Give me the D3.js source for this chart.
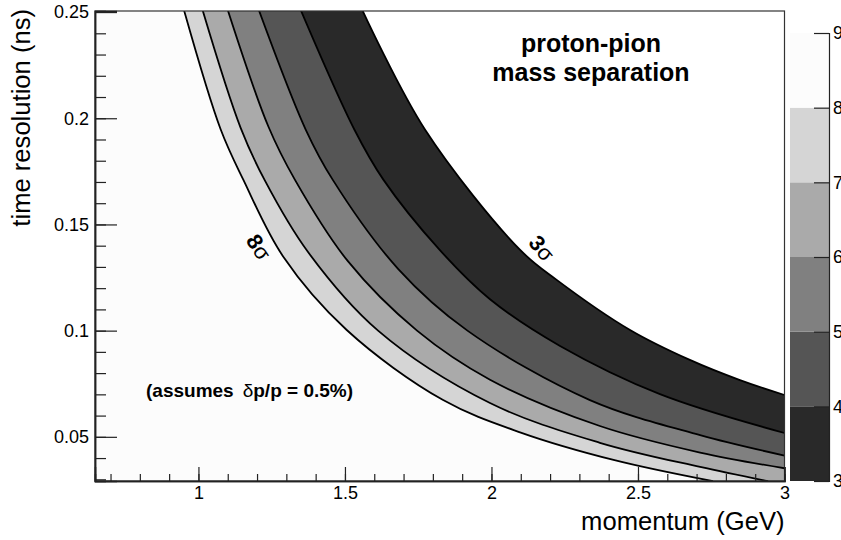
<!DOCTYPE html>
<html lang="en">
<head>
    <meta charset="UTF-8">
    <title>proton-pion mass separation</title>
    <script src="https://d3js.org/d3.v7.min.js"></script>
    <style>
        body { margin: 0; background: #fff; }
        svg { display: block; font-family: "Liberation Sans", Arial, Helvetica, sans-serif; }
        .tick text { font-size: 18px; fill: #000; }
    </style>
</head>
<body>
<svg width="841" height="540"></svg>

<script>
    // contour levels (separation in sigma) and band colours
    const levels = [3, 4, 5, 6, 7, 8];
    const bandColors = ["#292929", "#555555", "#808080", "#aaaaaa", "#d5d5d5", "#fcfcfc"];
    const paletteSteps = [3, 4, 5, 6, 7, 8, 9];

    // contour lines: [momentum (GeV), time resolution (ns)]
    const line3 = [[1.559, 0.251], [1.773, 0.1947], [2.097, 0.1381], [2.2225, 0.1239], [2.473, 0.1003],
                   [2.677, 0.0862], [2.848, 0.0767], [3.0, 0.0697]];
    const line4 = [[1.349, 0.251], [1.532, 0.1947], [1.631, 0.1711], [1.824, 0.1379], [1.995, 0.1148],
                   [2.234, 0.0928], [2.575, 0.0701], [3.0, 0.0518]];
    const line5 = [[1.206, 0.251], [1.366, 0.1947], [1.458, 0.1711], [1.682, 0.1290], [1.918, 0.1000],
                   [2.336, 0.0673], [2.712, 0.0508], [3.0, 0.0412]];
    const line6 = [[1.100, 0.251], [1.239, 0.1960], [1.329, 0.1711], [1.510, 0.1327], [1.746, 0.1000],
                   [1.995, 0.0769], [2.370, 0.0551], [2.712, 0.0426], [3.0, 0.0352]];
    const line7 = [[1.014, 0.251], [1.144, 0.1955], [1.227, 0.1706], [1.374, 0.1370], [1.613, 0.1000],
                   [1.995, 0.0659], [2.370, 0.0472], [2.712, 0.0358], [2.944, 0.0291]];
    const line8 = [[0.9505, 0.251], [1.076, 0.1947], [1.153, 0.1711], [1.289, 0.1349], [1.506, 0.1003],
                   [1.835, 0.0673], [2.100, 0.0520], [2.420, 0.0390], [2.756, 0.0291]];
    const contourLines = [line3, line4, line5, line6, line7, line8];

    // axis ticks
    const xMajor = [1, 1.5, 2, 2.5, 3];
    const xMajorLabels = ["1", "1.5", "2", "2.5", "3"];
    const yMajor = [0.05, 0.1, 0.15, 0.2, 0.25];
    const yMajorLabels = ["0.05", "0.1", "0.15", "0.2", "0.25"];
    const xMinor = d3.range(7, 30).map(d => d / 10);
    const yMinor = d3.range(3, 25).map(d => d / 100);

    const svg = d3.select("svg");
    const frame = {left: 95, right: 784.5, top: 11, bottom: 481};

    const x = d3.scaleLinear().domain([0.647, 3.0]).range([frame.left, frame.right]);
    const y = d3.scaleLinear().domain([0.0292, 0.2505]).range([frame.bottom, frame.top]);
    const fw = frame.right - frame.left, fh = frame.bottom - frame.top;

    svg.append("defs").append("clipPath").attr("id", "plotclip")
        .append("rect").attr("x", frame.left).attr("y", frame.top)
        .attr("width", fw).attr("height", fh);

    svg.append("rect").attr("x", frame.left).attr("y", frame.top)
        .attr("width", fw).attr("height", fh).attr("fill", "#fff");

    const line = d3.line().x(d => x(d[0])).y(d => y(d[1])).curve(d3.curveCatmullRom.alpha(0.5));

    // filled bands: everything below-left of a contour is above that level
    const plot = svg.append("g").attr("clip-path", "url(#plotclip)");
    contourLines.forEach(function (pts, i) {
        const last = pts[pts.length - 1];
        const d = line(pts)
            + "L" + x(3.5) + "," + y(last[1])
            + "L" + x(3.5) + "," + y(0)
            + "L" + x(0.5) + "," + y(0)
            + "L" + x(0.5) + "," + y(0.3) + "Z";
        plot.append("path").attr("d", d).attr("fill", bandColors[i]);
    });

    plot.selectAll("path.cline")
        .data(contourLines)
        .enter()
        .append("path")
        .attr("class", "cline")
        .attr("d", d => line(d))
        .attr("fill", "none")
        .attr("stroke", "#000")
        .attr("stroke-width", 1.8);

    // frame
    svg.append("rect").attr("x", frame.left).attr("y", frame.top)
        .attr("width", fw).attr("height", fh)
        .attr("fill", "none").attr("stroke", "#333").attr("stroke-width", 1.2);

    // axes, ticks pointing into the frame
    const xAxisG = svg.append("g").attr("transform", "translate(0," + frame.bottom + ")");
    xAxisG.call(d3.axisBottom(x).tickValues(xMinor).tickSize(-7).tickFormat(""));
    xAxisG.append("g").call(d3.axisBottom(x).tickValues(xMajor).tickSize(-14)
        .tickPadding(5).tickFormat((d, i) => xMajorLabels[i]));

    const yAxisG = svg.append("g").attr("transform", "translate(" + frame.left + ",0)");
    yAxisG.call(d3.axisLeft(y).tickValues(yMinor).tickSize(-11).tickFormat(""));
    yAxisG.append("g").call(d3.axisLeft(y).tickValues(yMajor).tickSize(-22)
        .tickPadding(6).tickFormat((d, i) => yMajorLabels[i]));

    svg.selectAll(".domain").attr("stroke", "#222").attr("stroke-width", 1.5);
    svg.selectAll(".tick line").attr("stroke", "#222").attr("stroke-width", 1.2);

    // axis titles
    svg.append("text").attr("x", frame.right).attr("y", 530).attr("text-anchor", "end")
        .attr("font-size", 25.6).text("momentum (GeV)");
    svg.append("text").attr("transform", "translate(30,9) rotate(-90)").attr("text-anchor", "end")
        .attr("font-size", 25.6).text("time resolution (ns)");

    // annotations
    const title = svg.append("text").attr("text-anchor", "middle")
        .attr("font-size", 25).attr("font-weight", "bold");
    title.append("tspan").attr("x", 591).attr("y", 52).text("proton-pion");
    title.append("tspan").attr("x", 591).attr("y", 81).text("mass separation");

    const note = svg.append("text").attr("x", 146).attr("y", 397)
        .attr("font-size", 19).attr("font-weight", "bold");
    note.append("tspan").text("(assumes");
    note.append("tspan").attr("dx", 9).attr("font-weight", "normal").text("δ");
    note.append("tspan").text("p/p = 0.5%)");

    function sigmaLabel(n, cx, cy, angle) {
        const t = svg.append("text").attr("transform", "translate(" + cx + "," + cy + ") rotate(" + angle + ")")
            .attr("text-anchor", "middle").attr("dominant-baseline", "central").attr("font-size", 22);
        t.append("tspan").attr("font-weight", "bold").text(n);
        t.append("tspan").text("σ");
    }
    sigmaLabel(levels[5], 259, 247, 57);
    sigmaLabel(levels[0], 542, 248, 50);

    // palette axis
    const cx0 = 790, cx1 = 829;
    const cy = d3.scaleLinear().domain([3, 9]).range([frame.bottom, 33]);
    const pal = svg.append("g");
    pal.selectAll("rect")
        .data(paletteSteps.slice(0, -1))
        .enter()
        .append("rect")
        .attr("x", cx0)
        .attr("y", d => cy(d + 1))
        .attr("width", cx1 - cx0)
        .attr("height", d => cy(d) - cy(d + 1))
        .attr("fill", (d, i) => bandColors[i]);

    const palAxis = svg.append("g").attr("transform", "translate(" + cx1 + ",0)");
    palAxis.call(d3.axisRight(cy).tickValues(paletteSteps).tickSize(-15).tickPadding(4).tickFormat(d3.format("d")));
    palAxis.select(".domain").attr("stroke", "#222").attr("stroke-width", 1.2);
    palAxis.selectAll(".tick line").attr("stroke", "#222").attr("stroke-width", 1.2);
</script>
</body>
</html>
